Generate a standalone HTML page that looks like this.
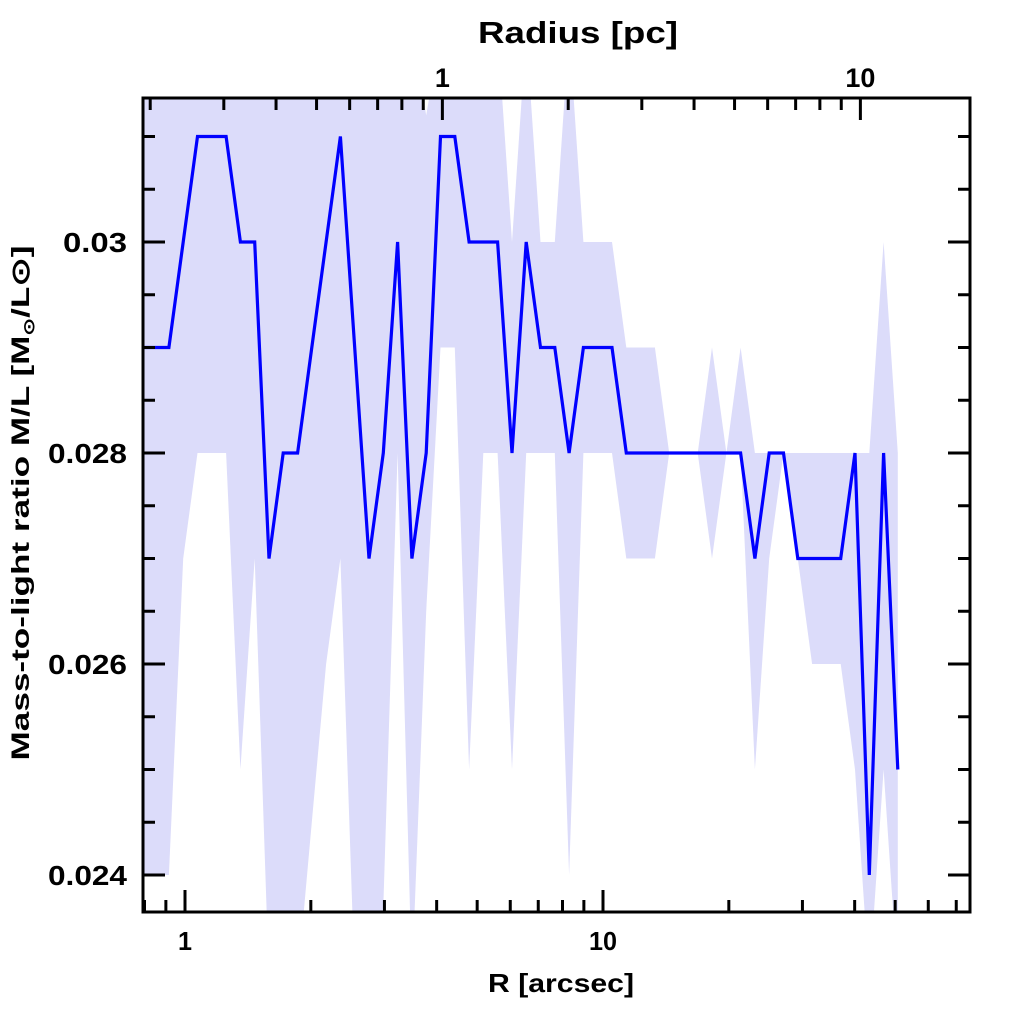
<!DOCTYPE html>
<html><head><meta charset="utf-8"><style>
html,body{margin:0;padding:0;background:#fff;}
svg{display:block;}
text{font-family:"Liberation Sans",sans-serif;font-weight:bold;fill:#000;}
</style></head><body>
<svg id="chart" width="1024" height="1024" viewBox="0 0 1024 1024" xmlns="http://www.w3.org/2000/svg">
<defs><clipPath id="plotclip"><rect x="143" y="98" width="827" height="814"/></clipPath></defs>
<g id="band" clip-path="url(#plotclip)"></g>
<g id="series" clip-path="url(#plotclip)"></g>
<g id="axes"></g>
<text x="561" y="992" font-size="26" text-anchor="middle" textLength="146" lengthAdjust="spacingAndGlyphs">R [arcsec]</text>
<text x="578" y="43" font-size="31" text-anchor="middle" textLength="200" lengthAdjust="spacingAndGlyphs">Radius [pc]</text>
<text transform="translate(29,503) rotate(-90)" font-size="25" text-anchor="middle" textLength="515" lengthAdjust="spacingAndGlyphs">Mass-to-light ratio M/L [M<tspan font-size="15" dy="5">⊙</tspan><tspan dy="-5">/L⊙]</tspan></text>
</svg>
<script>
// data (arcsec radii, M/L in units of 1e-3)
const radii = [0.782,0.846,0.915,0.990,1.071,1.159,1.254,1.357,1.468,1.588,1.718,1.859,2.011,2.176,2.354,2.547,2.756,2.981,3.226,3.490,3.776,4.085,4.420,4.782,5.173,5.597,6.056,6.552,7.088,7.669,8.297,8.977,9.712,10.51,11.37,12.30,13.31,14.40,15.58,16.85,18.23,19.73,21.34,23.09,24.98,27.03,29.24,31.64,34.23,37.03,40.07,43.35,46.90,50.74];
const mlValues = [29,29,29,30,31,31,31,30,30,27,28,28,29,30,31,29,27,28,30,27,28,31,31,30,30,30,28,30,29,29,28,29,29,29,28,28,28,28,28,28,28,28,28,27,28,28,27,27,27,27,28,24,28,25];
const mlUpper = [32,32,32,32,32,32,32,32,32,32,32,32,32,32,32,32,32,32,32,32,31.2,32,32,32,32,32,30,32,30,30,32,30,30,30,29,29,29,28,28,28,29,28,29,28,28,28,28,28,28,28,28,28,30,28];
const mlLower = [24,24,24,27,28,28,28,25,27,23,23,23,24.5,26,27,23,23,23.7,28,23,26.5,29,29,25,28,28,25,28,28,28,24,28,28,28,27,27,27,28,28,28,27,28,28,25,27,28,27,26,26,26,25,23,25,23];
const yMajorTicks = [0.024,0.026,0.028,0.030];
const yMajorLabels = ["0.024","0.026","0.028","0.03"];
const xMajorTicks = [1,10];
const xMajorLabels = ["1","10"];
const topMajorTicks = [1,10];
const topMajorLabels = ["1","10"];

const NS="http://www.w3.org/2000/svg";
const L=143,R=970,T=98,B=912;
const xs = r => 185 + 418*Math.log10(r);
const ys = v => 242 - (v-0.030)*105500;
const pcScale = Math.pow(10,-258/419); // pc per arcsec
const xt = pc => xs(pc/pcScale);
function mk(tag,attrs,parent){const e=document.createElementNS(NS,tag);for(const k in attrs)e.setAttribute(k,attrs[k]);parent.appendChild(e);return e;}

// band
let pts=[];
radii.forEach((r,i)=>pts.push(xs(r).toFixed(1)+","+ys(mlUpper[i]/1000).toFixed(1)));
for(let i=radii.length-1;i>=0;i--)pts.push(xs(radii[i]).toFixed(1)+","+ys(mlLower[i]/1000).toFixed(1));
const band=mk('polygon',{points:pts.join(' '),fill:'#dcdcfa',stroke:'none'},document.getElementById('band'));



// line
const lp=radii.map((r,i)=>xs(r).toFixed(1)+","+ys(mlValues[i]/1000).toFixed(1)).join(' ');
const line=mk('polyline',{points:lp,fill:'none',stroke:'#0000ff','stroke-width':3.2,'stroke-linejoin':'miter'},document.getElementById('series'));



const ax=document.getElementById('axes');
function tick(x1,y1,x2,y2,name){const t=mk('line',{x1,y1,x2,y2,stroke:'#000','stroke-width':3},ax);

}
function label(x,y,txt,size,anchor,len,name){const t=mk('text',{x,y,'font-size':size,'text-anchor':anchor,textLength:len,lengthAdjust:'spacingAndGlyphs'},ax);t.textContent=txt;

}

// y ticks
for(let k=0;k<=15;k++){const v=0.0235+k*0.0005;const y=ys(v);if(y<T+2||y>B-2)continue;
 const major=Math.abs(Math.round(v*1000)-v*1000)<1e-6 && Math.round(v*1000)%2===0;
 const len=major?22:12;
 tick(L,y,L+len,y,'y-tick');tick(R,y,R-len,y,'y-tick-right');}
yMajorTicks.forEach((v,i)=>label(127,ys(v)+10,yMajorLabels[i],28,'end',yMajorLabels[i].length>4?79:64,'y-tick-label'));

// bottom x ticks
for(let d=-1;d<=1;d++)for(let m=1;m<=9;m++){const r=m*Math.pow(10,d);const x=xs(r);if(x<L+1||x>R-1)continue;
 const len=m===1?22:12;tick(x,B,x,B-len,'x-tick');}
xMajorTicks.forEach((r,i)=>label(xs(r),950,xMajorLabels[i],26,'middle',xMajorLabels[i].length*14,'x-tick-label'));

// top ticks
for(let d=-1;d<=1;d++)for(let m=1;m<=9;m++){const pc=m*Math.pow(10,d);const x=xt(pc);if(x<L+1||x>R-1)continue;
 const len=m===1?22:12;tick(x,T,x,T+len,'top-tick');}
topMajorTicks.forEach((pc,i)=>label(xt(pc),87,topMajorLabels[i],27,'middle',topMajorLabels[i].length*15,'top-tick-label'));

// frame
const fr=mk('rect',{x:L,y:T,width:R-L,height:B-T,fill:'none',stroke:'#000','stroke-width':3},ax);


</script>
</body></html>
